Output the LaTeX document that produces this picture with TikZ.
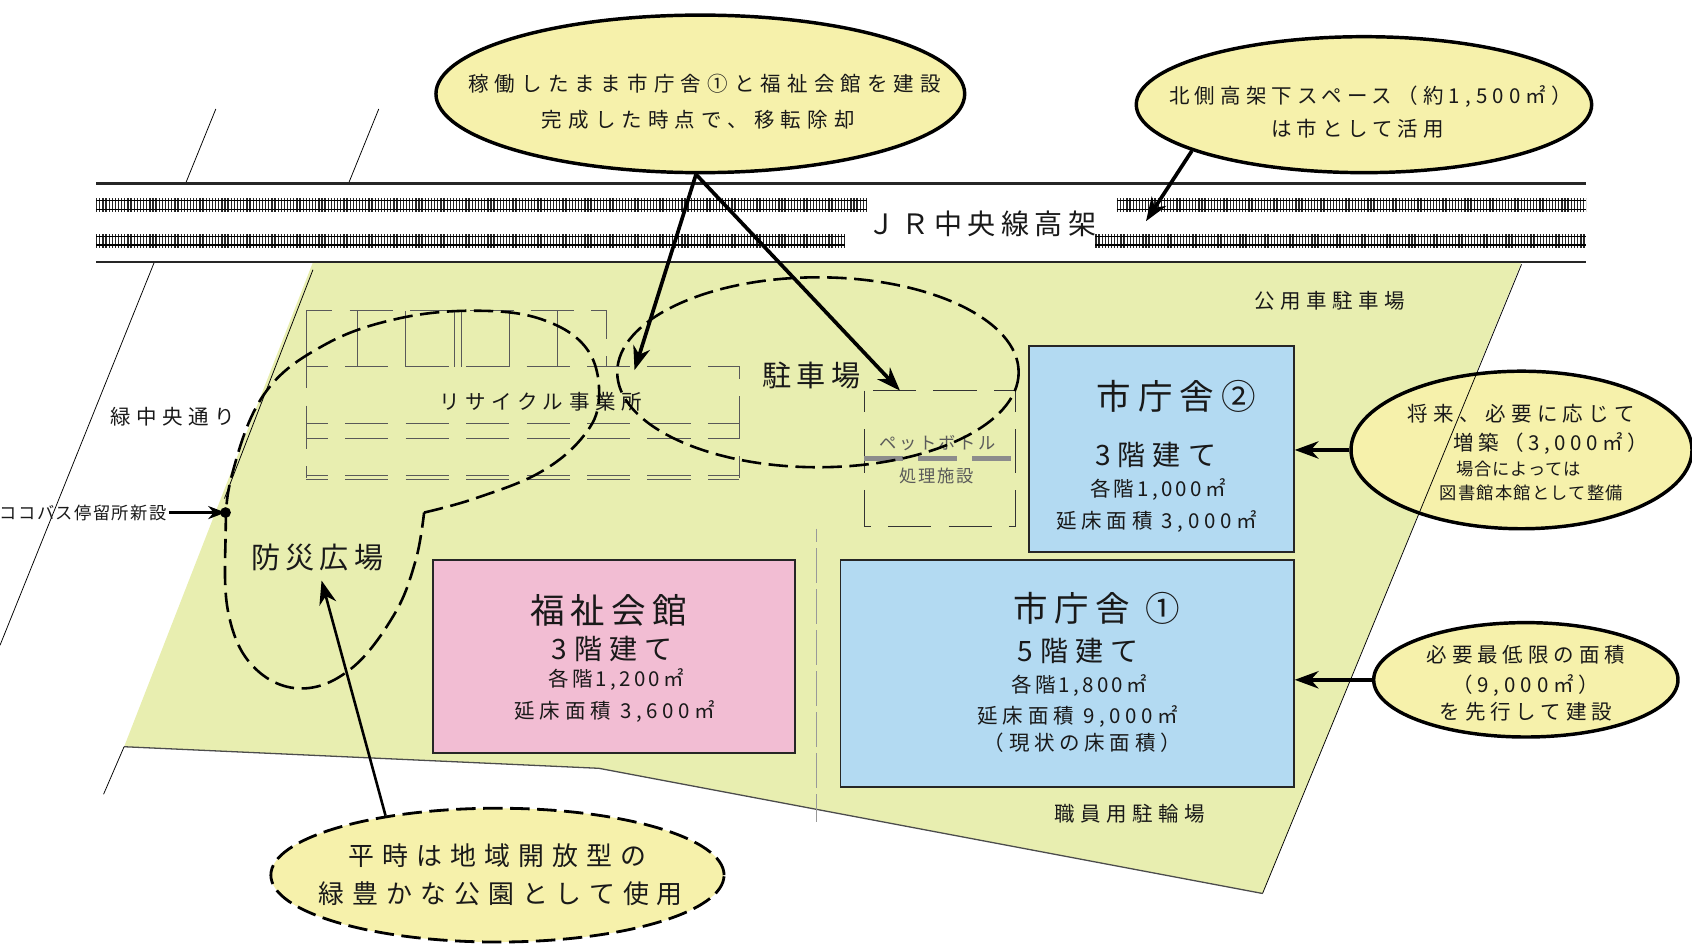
\documentclass[tikz,border=0pt]{standalone}
\usepackage{fontspec}
\setmainfont{Noto Sans CJK JP}
\usetikzlibrary{shapes.geometric,arrows.meta}
\definecolor{site}{HTML}{E8EEB0}
\definecolor{bubble}{HTML}{F6F1AB}
\definecolor{pinkb}{HTML}{F2BDD3}
\definecolor{blueb}{HTML}{B3DAF2}
\definecolor{greyd}{HTML}{5A5A5A}
\tikzset{
  x=0.5pt,y=-0.5pt,
  sz/.style 2 args={font={\fontsize{#1}{#1}\selectfont\addfontfeature{LetterSpace=#2}},inner sep=0pt,text=black!90},
  bub/.style={draw=black,line width=1.6pt,fill=bubble,ellipse,inner sep=0pt},
  bld/.style={draw=black!85,line width=0.9pt,inner sep=0pt,anchor=north west},
  rail/.style={line width=0.7pt,black},
  ties/.style={line width=6.5pt,black!85,dash pattern=on 0.6pt off 0.85pt},
  thin line/.style={line width=0.35pt,black},
  bigdash/.style={line width=1.2pt,black,dash pattern=on 9pt off 3.5pt},
  griddash/.style={line width=0.4pt,black!65,dash pattern=on 20pt off 8pt,dash phase=10pt},
  arr/.style={line width=1.7pt,black,-{Stealth[length=11pt,width=8pt,inset=3.5pt]}},
}
\begin{document}
\begin{tikzpicture}
\useasboundingbox (0,0) rectangle (1568,876);
% site
\fill[site] (290,243) -- (1410,243) -- (1170,828) -- (555,712) -- (115,692) -- cycle;
\draw[line width=0.6pt,black!70] (115,692) -- (555,712) -- (1170,828);
% roads
\draw[thin line] (200,101) -- (172,170);
\draw[thin line] (351,101) -- (323,170);
\draw[thin line] (143,243) -- (0,598);
\draw[thin line] (290,250) -- (208,462);
\draw[thin line] (115,692) -- (96,736);
% viaduct
\draw[line width=1.1pt,black!85] (89,170) -- (1470,170);
\draw[line width=1.1pt,black!85] (89,243) -- (1470,243);
\foreach \ya/\xa/\xb in {190/89/803,190/1035/1470,223/89/783,223/1015/1470}{
  \draw[ties] (\xa,\ya) -- (\xb,\ya);
  \draw[rail] (\xa,\ya-4) -- (\xb,\ya-4);
  \draw[rail] (\xa,\ya+4) -- (\xb,\ya+4);
}
\node[sz={13}{19}] (jr) at (910,207) {ＪＲ中央線高架};
% recycling yard
\draw[griddash] (284,340) -- (284,288) -- (562,288) -- (562,340);
\foreach \x in {331,376,421,428,472,517}{\draw[griddash,dash pattern=on 26pt off 0pt] (\x,288) -- (\x,340);}
\draw[griddash,dash pattern=on 26pt off 0pt] (284,288) -- (284,340);
\draw[griddash] (284,340) -- (685,340) -- (685,443);
\draw[griddash] (284,340) -- (284,443);
\foreach \y in {392,406,441,444}{\draw[griddash] (284,\y) -- (685,\y);}
\node[sz={9.5}{28}] (recy) at (501,372) {リサイクル事業所};
% pet
\draw[griddash,black!80] (801,362) rectangle (941,488);
\draw[line width=2.5pt,black!45,dash pattern=on 18pt off 7pt] (801,425) -- (941,425);
\node[sz={8}{14},text=greyd] (pet1) at (869,411) {ペットボトル};
\node[sz={8}{10},text=greyd] (pet2) at (868,441) {処理施設};
% divider
\draw[griddash,dash pattern=on 16pt off 3pt,black!40] (757,490) -- (757,762);
% dashed zones
\draw[bigdash] (758,345) ellipse [x radius=186,y radius=88];
\draw[bigdash] plot[smooth,tension=0.65] coordinates {(393,475) (440,462) (500,438) (540,405) (555,370) (545,325) (505,297) (445,288) (370,295) (300,320) (245,365) (215,440) (209,500) (212,570) (235,618) (278,638) (325,620) (365,570) (385,520) (393,475)};
\node[sz={13.5}{18}] (park) at (752,348) {駐車場};
\node[sz={13.5}{18}] (bosai) at (294,517) {防災広場};
% buildings
\node[bld,fill=pinkb,minimum width=168pt,minimum height=89.5pt] (fuku) at (400,518) {};
\node[bld,fill=blueb,minimum width=210pt,minimum height=105pt] (city1) at (778,518) {};
\node[bld,fill=blueb,minimum width=122.5pt,minimum height=95.5pt] (city2) at (953,320) {};
\node[sz={16}{18}] (f1) at (564,566) {福祉会館};
\node[sz={13}{25}] (f2) at (567,601) {3階建て};
\node[sz={9.5}{16}] (f3) at (571,630) {各階1,200㎡};
\node[sz={9.5}{23}] (f4) at (570,659) {延床面積 3,600㎡};
\node[sz={16}{20}] (c1) at (1016,564) {市庁舎 ①};
\node[sz={13}{25}] (c2) at (999,603) {5階建て};
\node[sz={9.5}{16}] (c3) at (1000,635) {各階1,800㎡};
\node[sz={9.5}{23}] (c4) at (999,664) {延床面積 9,000㎡};
\node[sz={9.5}{23}] (c5) at (1003,688) {（現状の床面積）};
\node[sz={16}{20}] (d1) at (1090,367) {市庁舎②};
\node[sz={13}{25}] (d2) at (1071,422) {3階建て};
\node[sz={9.5}{16}] (d3) at (1073,454) {各階1,000㎡};
\node[sz={9.5}{23}] (d4) at (1072,483) {延床面積 3,000㎡};
% labels
\node[sz={9.5}{27}] (road) at (160,386) {緑中央通り};
\node[sz={8}{8}] (bus) at (77,475) {ココバス停留所新設};
\node[sz={9.5}{27}] (kou) at (1232,279) {公用車駐車場};
\node[sz={9.5}{27}] (shok) at (1047,754) {職員用駐輪場};
% bubbles
\node[bub,minimum width=245pt,minimum height=73pt] (e1) at (649,87) {};
\node[bub,minimum width=211pt,minimum height=63pt] (e2) at (1264,97) {};
\node[bub,minimum width=158pt,minimum height=73pt] (e3) at (1410,417) {};
\node[bub,minimum width=141pt,minimum height=53pt] (e4) at (1414,630) {};
\node[bub,line width=1.3pt,dash pattern=on 9pt off 3.5pt,minimum width=210pt,minimum height=62pt] (e5) at (461,811) {};
\draw[thin line] (1410,245) -- (1170,828);
\node[sz={9.5}{30}] (t1a) at (653,78) {稼働したまま市庁舎①と福祉会館を建設};
\node[sz={9.5}{30}] (t1b) at (647,111) {完成した時点で、移転除却};
\node[sz={9.5}{25}] (t2a) at (1270,89) {北側高架下スペース（約1,500㎡）};
\node[sz={9.5}{24}] (t2b) at (1258,119) {は市として活用};
\node[sz={9.5}{26}] (t3a) at (1410,383) {将来、必要に応じて};
\node[sz={9.5}{22}] (t3b) at (1437,411) {増築（3,000㎡）};
\node[sz={8}{5}] (t3c) at (1407,435) {場合によっては};
\node[sz={8}{7}] (t3d) at (1419,457) {図書館本館として整備};
\node[sz={9.5}{24}] (t4a) at (1414,607) {必要最低限の面積};
\node[sz={9.5}{24}] (t4b) at (1414,635) {（9,000㎡）};
\node[sz={9.5}{24}] (t4c) at (1414,660) {を先行して建設};
\node[sz={12}{31}] (t5a) at (461,793) {平時は地域開放型の};
\node[sz={12}{31}] (t5b) at (464,828) {緑豊かな公園として使用};
% connectors
\coordinate (tipA) at (588,343);
\coordinate (tipB) at (834,362);
\coordinate (tipC) at (1062,205);
\coordinate (tipD) at (298,538);
\coordinate (stop) at (209,475);
\draw[arr] (e1.south) ++(-4,0) -- (tipA);
\draw[arr] (e1.south) ++(-4,0) -- (tipB);
\draw[arr] (e2.195) -- (tipC);
\draw[arr] (e3.west) -- (city2.east |- e3.west);
\draw[arr] (e4.west) -- (city1.east |- e4.west);
\draw[arr,line width=1.2pt] (e5.152.6) -- (tipD);
\draw[arr,line width=1.3pt,-{Stealth[length=8pt,width=6pt,inset=2.5pt]}] (bus.east) ++(2,0) -- (stop);
\fill[black] (stop) circle[radius=5];
\end{tikzpicture}
\end{document}
